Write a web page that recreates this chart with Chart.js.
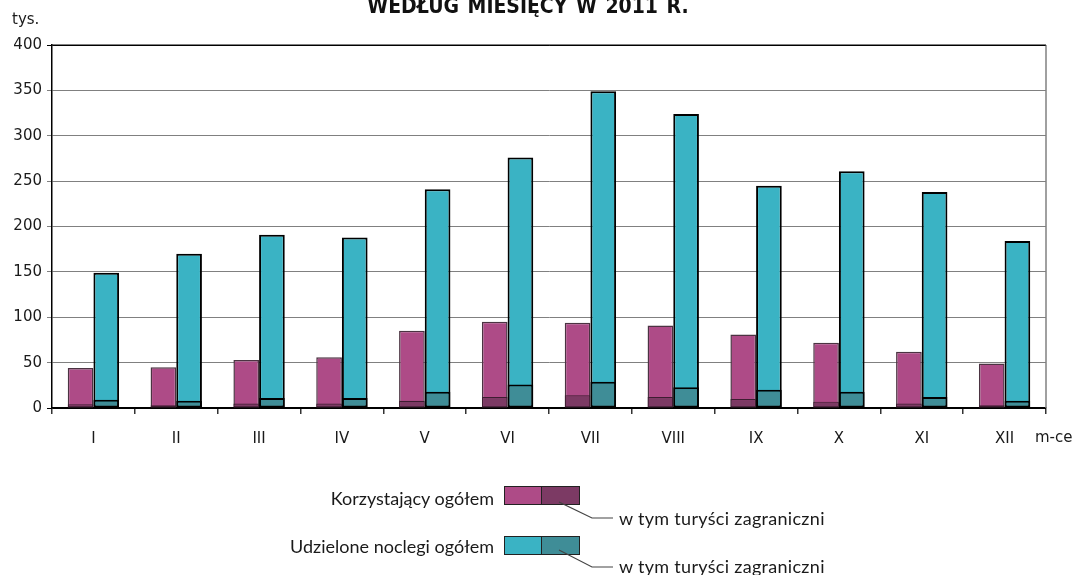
<!DOCTYPE html>
<html lang="pl">
<head>
    <meta charset="UTF-8">
    <title>Korzystający z noclegów według miesięcy w 2011 r.</title>
    <script src="https://cdn.jsdelivr.net/npm/chart.js"></script>
    <style>
        body {
            margin: 0;
            background: #ffffff;
            font-family: 'DejaVu Sans', sans-serif;
            color: #1a1a1a;
        }
        #wrap {
            position: relative;
            width: 1075px;
            height: 575px;
            overflow: hidden;
        }
        #chart {
            position: absolute;
            left: 0;
            top: 0;
        }
        .title {
            position: absolute;
            left: 0;
            width: 1056px;
            top: -6px;
            text-align: center;
            font-family: 'Liberation Sans Narrow', 'DejaVu Sans Condensed', sans-serif;
            font-weight: bold;
            font-size: 21px;
            word-spacing: 2px;
            color: #111;
        }
        .unit {
            position: absolute;
            font-size: 15px;
            line-height: 18px;
        }
        .leg {
            position: absolute;
            font-family: Lato, 'Open Sans', sans-serif;
            font-size: 18px;
            line-height: 20px;
            color: #1a1a1a;
            white-space: nowrap;
        }
        .sw {
            position: absolute;
            height: 19px;
            box-sizing: border-box;
            border: 1.5px solid #222;
        }
        svg {
            position: absolute;
            left: 0;
            top: 0;
        }
    </style>
</head>
<body>
<div id="wrap">
    <canvas id="chart" width="1075" height="575"></canvas>
    <div class="title">WEDŁUG MIESIĘCY W 2011 R.</div>
    <div class="unit" style="left:12px; top:10px;">tys.</div>
    <div class="unit" style="left:1035px; top:428px;">m-ce</div>

    <!-- legenda -->
    <div class="leg" style="right:581px; top:488px;">Korzystający ogółem</div>
    <div class="sw" style="left:504px; top:486px; width:39px; background:#ae4b87;"></div>
    <div class="sw" style="left:541px; top:486px; width:39px; background:#7c3a64;"></div>
    <div class="leg" style="left:619px; top:508px; letter-spacing:0.3px;">w tym turyści zagraniczni</div>

    <div class="leg" style="right:581px; top:536px;">Udzielone noclegi ogółem</div>
    <div class="sw" style="left:504px; top:536px; width:39px; background:#3ab3c4;"></div>
    <div class="sw" style="left:541px; top:536px; width:39px; background:#3f8d97;"></div>
    <div class="leg" style="left:619px; top:556px; letter-spacing:0.3px;">w tym turyści zagraniczni</div>

    <svg width="1075" height="575">
        <polyline points="559,502 592,518 613,518" fill="none" stroke="#444" stroke-width="1.2"/>
        <polyline points="559,550 592,567 613,567" fill="none" stroke="#444" stroke-width="1.2"/>
    </svg>
</div>

<script>
    // dane w tys.
    const months = ['I', 'II', 'III', 'IV', 'V', 'VI', 'VII', 'VIII', 'IX', 'X', 'XI', 'XII'];
    const korzystajacy = [44, 45, 53, 56, 85, 95, 94, 91, 81, 72, 62, 49];
    const korzystajacyZagr = [4, 3, 5, 5, 8, 12, 14, 12, 10, 7, 5, 3];
    const noclegi = [149, 170, 191, 188, 241, 276, 349, 324, 245, 261, 238, 184];
    const noclegiZagr = [9, 8, 11, 11, 18, 26, 29, 23, 20, 18, 12, 8];
    const yTicks = [0, 50, 100, 150, 200, 250, 300, 350, 400];

    // prawa krawędź obszaru wykresu
    const frame = {
        id: 'frame',
        afterDatasetsDraw(chart) {
            const a = chart.chartArea;
            const ctx = chart.ctx;
            ctx.save();
            ctx.strokeStyle = '#808080';
            ctx.lineWidth = 1.5;
            ctx.beginPath();
            ctx.moveTo(a.right, a.top);
            ctx.lineTo(a.right, a.bottom);
            ctx.stroke();
            ctx.strokeStyle = '#000';
            ctx.lineWidth = 1;
            ctx.beginPath();
            ctx.moveTo(a.left, a.top);
            ctx.lineTo(a.right, a.top);
            ctx.stroke();
            ctx.restore();
        }
    };

    new Chart(document.getElementById('chart'), {
        type: 'bar',
        data: {
            labels: months,
            datasets: [
                {
                    label: 'w tym turyści zagraniczni',
                    data: korzystajacyZagr,
                    stack: 'k',
                    order: 1,
                    backgroundColor: '#7c3a64',
                    borderColor: '#3d1d31',
                    borderWidth: 1.2
                },
                {
                    label: 'w tym turyści zagraniczni ',
                    data: noclegiZagr,
                    stack: 'u',
                    order: 1,
                    backgroundColor: '#3f8d97',
                    borderColor: '#000',
                    borderWidth: 2
                },
                {
                    label: 'Korzystający ogółem',
                    data: korzystajacy,
                    stack: 'k',
                    order: 2,
                    backgroundColor: '#ae4b87',
                    borderColor: '#4b3342',
                    borderWidth: 1.5
                },
                {
                    label: 'Udzielone noclegi ogółem',
                    data: noclegi,
                    stack: 'u',
                    order: 2,
                    backgroundColor: '#3ab3c4',
                    borderColor: '#000',
                    borderWidth: 2
                }
            ]
        },
        options: {
            responsive: false,
            animation: false,
            events: [],
            layout: {
                padding: { left: 0, right: 29, top: 45, bottom: 127 }
            },
            datasets: {
                bar: {
                    categoryPercentage: 0.62,
                    barPercentage: 1,
                    borderSkipped: false
                }
            },
            scales: {
                x: {
                    stacked: true,
                    afterFit(scale) { scale.height = 40; },
                    grid: {
                        offset: true,
                        drawOnChartArea: false,
                        drawTicks: true,
                        tickLength: 6,
                        lineWidth: 1.5,
                        color: '#333'
                    },
                    border: { color: '#000', width: 1.5 },
                    ticks: {
                        padding: 16,
                        color: '#1a1a1a',
                        font: { family: 'DejaVu Sans', size: 15 }
                    }
                },
                y: {
                    stacked: false,
                    min: 0,
                    max: 400,
                    afterFit(scale) { scale.width = 52; },
                    afterBuildTicks(scale) {
                        scale.ticks = yTicks.map(v => ({ value: v }));
                    },
                    grid: {
                        tickLength: 5,
                        lineWidth: 1,
                        color: ctx => (ctx.tick && (ctx.tick.value === 400 || ctx.tick.value === 0)) ? '#000' : '#808080'
                    },
                    border: { color: '#000', width: 1.5 },
                    ticks: {
                        padding: 5,
                        color: '#1a1a1a',
                        font: { family: 'DejaVu Sans', size: 15 }
                    }
                }
            },
            plugins: {
                legend: { display: false },
                tooltip: { enabled: false }
            }
        },
        plugins: [frame]
    });
</script>
</body>
</html>
